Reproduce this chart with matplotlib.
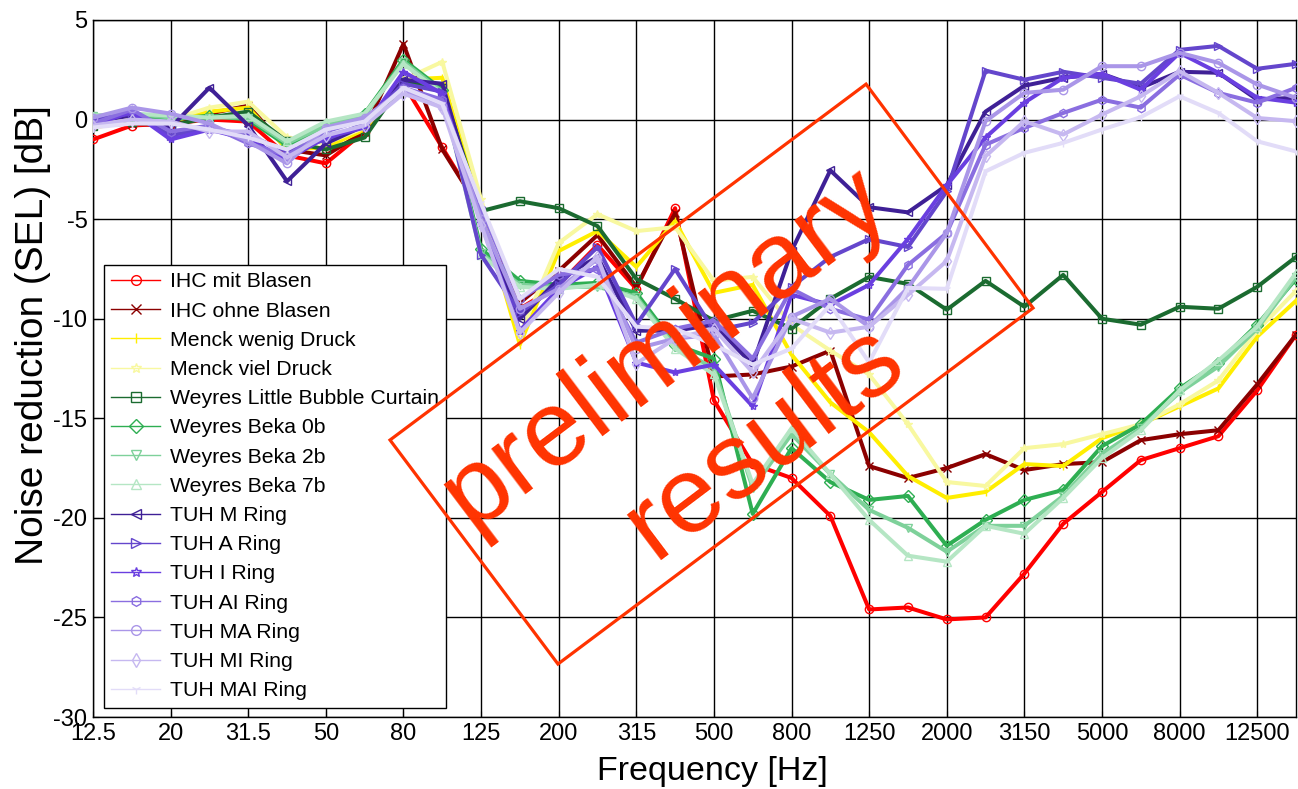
import matplotlib
matplotlib.use("Agg")
import matplotlib.pyplot as plt
from matplotlib.lines import Line2D
from matplotlib.patches import Polygon
import numpy as np

plt.rcParams['font.family'] = ['Liberation Sans', 'DejaVu Sans']
plt.rcParams['axes.unicode_minus'] = False

# third octave bands
bands = ['12.5', '16', '20', '25', '31.5', '40', '50', '63', '80', '100', '125', '160',
         '200', '250', '315', '400', '500', '630', '800', '1000', '1250', '1600', '2000',
         '2500', '3150', '4000', '5000', '6300', '8000', '10000', '12500', '16000']

ihc_mit = [-1.0, -0.3, -0.2, 0.0, -0.1, -1.8, -2.2, -0.6, 1.8, -1.4, -4.6, -9.5, -8.3, -6.3, -8.5, -4.45,
           -14.1, -17.3, -18.0, -19.9, -24.6, -24.5, -25.1, -25.0, -22.8, -20.3, -18.7, -17.1, -16.5, -15.9, -13.6, -10.8]
ihc_ohne = [-0.3, -0.2, -0.3, 0.3, 0.7, -1.5, -1.8, -0.6, 3.8, -1.5, -4.6, -9.2, -7.6, -5.8, -8.4, -4.7,
            -12.9, -12.8, -12.4, -11.6, -17.4, -18.0, -17.5, -16.8, -17.6, -17.3, -17.2, -16.1, -15.8, -15.6, -13.3, -10.8]
menck_wenig = [-0.4, -0.1, -0.1, 0.4, 0.6, -1.5, -1.4, -0.5, 2.0, 2.1, -4.5, -11.3, -6.6, -5.6, -7.4, -5.1,
               -8.7, -8.3, -11.8, -14.2, -15.7, -17.9, -19.0, -18.7, -17.3, -17.4, -16.0, -15.3, -14.4, -13.5, -10.9, -9.1]
menck_viel = [-0.2, 0.1, 0.0, 0.6, 0.9, -0.9, -1.2, -0.4, 2.0, 2.9, -4.0, -10.8, -6.2, -4.75, -5.6, -5.4,
              -8.1, -7.9, -10.3, -11.6, -12.8, -15.3, -18.2, -18.4, -16.5, -16.3, -15.8, -15.3, -14.3, -13.1, -10.6, -8.6]
weyres_lbc = [-0.3, -0.1, -0.3, 0.1, 0.4, -1.1, -1.5, -0.9, 1.9, 1.6, -4.6, -4.1, -4.45, -5.35, -8.0, -9.0,
              -10.1, -9.6, -10.5, -9.0, -7.9, -8.25, -9.55, -8.1, -9.4, -7.8, -10.0, -10.3, -9.4, -9.5, -8.4, -6.9]
beka_0b = [0.1, 0.2, 0.0, 0.2, 0.0, -1.3, -0.4, 0.3, 3.0, 1.5, -6.5, -8.1, -8.3, -8.2, -8.7, -11.3,
           -12.0, -19.8, -16.5, -18.2, -19.1, -18.9, -21.4, -20.1, -19.1, -18.6, -16.4, -15.3, -13.5, -12.2, -10.3, -8.0]
beka_2b = [0.2, 0.3, 0.1, 0.1, 0.1, -1.2, -0.3, 0.2, 2.9, 1.4, -6.7, -8.3, -8.4, -8.4, -8.9, -11.4,
           -12.5, -18.5, -15.8, -17.8, -19.6, -20.5, -21.7, -20.4, -20.4, -18.9, -16.8, -15.5, -13.7, -12.4, -10.5, -7.9]
beka_7b = [0.2, 0.3, 0.2, 0.1, 0.2, -1.1, -0.1, 0.3, 2.8, 1.3, -6.8, -8.4, -8.5, -8.3, -9.0, -11.5,
           -12.8, -18.3, -15.5, -17.8, -20.1, -21.9, -22.2, -20.4, -20.8, -19.0, -17.0, -15.6, -13.6, -12.1, -10.4, -7.7]
tuh_m = [-0.1, 0.2, -0.4, 1.6, -0.3, -3.1, -1.2, -0.3, 2.0, 1.8, -5.0, -10.0, -8.0, -6.9, -10.6, -10.6,
         -10.3, -12.3, -6.6, -2.55, -4.4, -4.66, -3.3, 0.4, 1.7, 2.1, 2.3, 1.6, 2.4, 2.35, 1.0, 1.1]
tuh_a = [0.0, 0.3, -0.8, -0.4, -0.8, -1.6, -1.0, -0.2, 1.8, 1.4, -6.8, -9.7, -8.3, -6.4, -10.3, -7.5,
         -10.6, -10.2, -8.4, -6.9, -6.0, -6.4, -3.6, 2.46, 2.0, 2.4, 2.1, 1.8, 3.5, 3.7, 2.55, 2.8]
tuh_i = [-0.3, 0.4, -1.0, -0.5, -1.0, -2.0, -0.9, -0.4, 2.4, 1.3, -5.2, -10.6, -8.5, -7.4, -12.2, -12.7,
         -12.3, -14.4, -8.8, -9.3, -8.3, -6.0, -3.3, -0.9, 0.85, 2.1, 2.3, 1.5, 3.35, 2.35, 1.1, 0.85]
tuh_ai = [-0.2, 0.5, -0.6, -0.3, -1.2, -1.8, -0.6, 0.0, 1.6, 1.0, -4.5, -9.0, -7.8, -7.5, -11.2, -10.5,
          -10.1, -12.0, -8.5, -9.5, -10.05, -7.3, -5.7, -1.26, -0.42, 0.33, 1.0, 0.6, 2.26, 1.34, 0.85, 1.6]
tuh_ma = [0.1, 0.6, 0.3, -0.2, -1.1, -2.2, -0.4, 0.1, 1.5, 0.7, -5.0, -9.5, -8.5, -7.0, -11.5, -11.0,
          -10.8, -14.0, -9.9, -9.0, -10.4, -8.45, -5.7, -0.08, 1.34, 1.5, 2.68, 2.68, 3.35, 2.85, 1.76, 1.09]
tuh_mi = [-0.3, 0.0, -0.1, -0.6, -0.6, -1.9, -0.8, -0.3, 1.3, 0.6, -5.3, -10.7, -8.7, -6.9, -12.25, -11.0,
          -10.5, -12.7, -10.0, -10.7, -10.4, -8.8, -7.1, -1.84, -0.08, -0.75, 0.25, 1.17, 2.43, 1.34, 0.08, -0.08]
tuh_mai = [-0.4, -0.2, -0.2, -0.5, -0.9, -1.5, -0.5, -0.1, 1.6, 0.8, -4.2, -9.0, -7.5, -7.9, -10.4, -10.5,
           -11.3, -12.3, -11.5, -9.3, -12.2, -8.45, -8.5, -2.6, -1.67, -1.17, -0.5, 0.12, 1.17, 0.33, -1.09, -1.6]

series = [
    ('IHC mit Blasen', ihc_mit, '#ff0000', 'o'),
    ('IHC ohne Blasen', ihc_ohne, '#8b0000', 'x'),
    ('Menck wenig Druck', menck_wenig, '#ffee00', '|'),
    ('Menck viel Druck', menck_viel, '#f8f8a0', '*'),
    ('Weyres Little Bubble Curtain', weyres_lbc, '#1b6b30', 's'),
    ('Weyres Beka 0b', beka_0b, '#2eae52', 'D'),
    ('Weyres Beka 2b', beka_2b, '#7ed19a', 'v'),
    ('Weyres Beka 7b', beka_7b, '#b5e6c4', '^'),
    ('TUH M Ring', tuh_m, '#3f2096', '<'),
    ('TUH A Ring', tuh_a, '#6446cc', '>'),
    ('TUH I Ring', tuh_i, '#6a3fe0', '*'),
    ('TUH AI Ring', tuh_ai, '#8a6ee0', 'h'),
    ('TUH MA Ring', tuh_ma, '#aa96e8', 'o'),
    ('TUH MI Ring', tuh_mi, '#c6b8f0', 'd'),
    ('TUH MAI Ring', tuh_mai, '#e2dcf8', '1'),
]

fig = plt.figure(figsize=(12.98, 7.89), dpi=100)
ax = fig.add_axes([93/1298, 1-717/789, 1203/1298, 697/789])

x = np.arange(len(bands))
handles = []
for name, vals, col, mk in series:
    ax.plot(x, vals, color=col, lw=2.9, marker=mk, ms=6, mfc='none', mec=col, mew=1.0, zorder=3)
    handles.append(Line2D([], [], color=col, lw=1.0, marker=mk, ms=7, mfc='none', mec=col, mew=1.0))

ax.set_xlim(0, 31)
ax.set_ylim(-30, 5)
ax.set_xticks(x[::2])
ax.set_xticklabels(bands[::2])
ax.set_yticks(np.arange(-30, 6, 5))
ax.tick_params(direction='in', length=4, labelsize=17, pad=4)
ax.grid(True, color='black', lw=1.0, ls='-')
ax.set_axisbelow(True)
for s in ax.spines.values():
    s.set_linewidth(1.0)
ax.set_xlabel('Frequency [Hz]', fontsize=24.5, labelpad=8)
ax.xaxis.label.set_x(0.5145)
ax.set_ylabel('Noise reduction (SEL) [dB]', fontsize=28, labelpad=2)
ax.yaxis.label.set_y(0.548)

leg = ax.legend(handles, [s[0] for s in series], loc='upper left', bbox_to_anchor=(0.009, 0.6485),
                borderaxespad=0, fontsize=15.3, fancybox=False, edgecolor='black', framealpha=1,
                labelspacing=0.48, handlelength=2.3, handletextpad=0.45, borderpad=0.35)
leg.get_frame().set_linewidth(1.0)
leg.set_zorder(5)

# watermark
wm = '#ff3300'
rect = Polygon([(0.6426, 0.908), (0.7814, 0.5868), (0.3865, 0.076), (0.2469, 0.3974)], closed=True,
               fill=False, ec=wm, lw=2.3, transform=ax.transAxes, zorder=6)
ax.add_patch(rect)
ax.text(0.4763, 0.528, 'preliminary', transform=ax.transAxes, rotation=37, rotation_mode='anchor',
        ha='center', va='center', fontsize=78, color=wm, zorder=7)
ax.text(0.558, 0.3945, 'results', transform=ax.transAxes, rotation=37, rotation_mode='anchor',
        ha='center', va='center', fontsize=78, color=wm, zorder=7)

fig.savefig('out.png', dpi=100)
